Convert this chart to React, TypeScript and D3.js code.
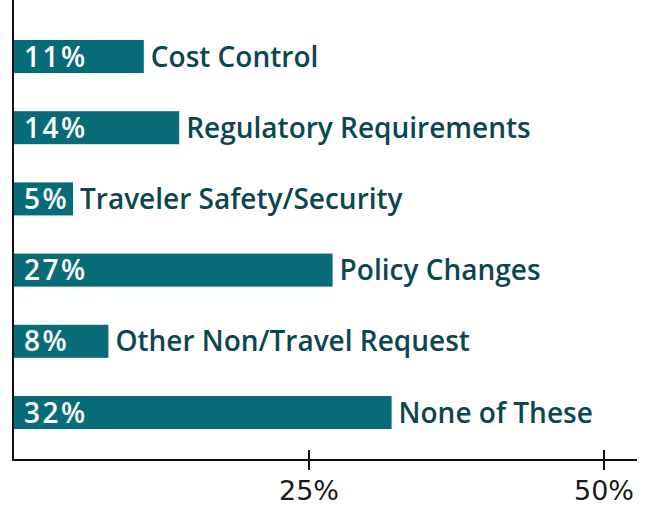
import * as d3 from "d3";
import { useEffect, useRef } from "react";

const categories = [
  "Cost Control",
  "Regulatory Requirements",
  "Traveler Safety/Security",
  "Policy Changes",
  "Other Non/Travel Request",
  "None of These",
];
const values = [11, 14, 5, 27, 8, 32];
const tickValues = [25, 50];

const width = 650;
const height = 506;

export default function App() {
  const ref = useRef<SVGSVGElement | null>(null);

  useEffect(() => {
    const svg = d3.select(ref.current);
    svg.selectAll("*").remove();

    const x = d3.scaleLinear().domain([0, 50]).range([14, 604]);
    const y = d3
      .scaleBand<string>()
      .domain(categories)
      .range([20.9, 448.1])
      .paddingInner(0.536)
      .paddingOuter(0.268);

    const axisY = 460;
    const font = "'Open Sans', sans-serif";

    const rows = svg
      .selectAll("g.row")
      .data(categories)
      .enter()
      .append("g")
      .attr("class", "row");

    rows
      .append("rect")
      .attr("x", x(0))
      .attr("y", (d) => y(d)!)
      .attr("width", (_, i) => x(values[i]) - x(0))
      .attr("height", y.bandwidth())
      .attr("fill", "#076c77");

    rows
      .append("text")
      .attr("x", x(0) + 10)
      .attr("y", (d) => y(d)! + y.bandwidth() / 2)
      .attr("dy", "0.36em")
      .attr("fill", "white")
      .style("font-family", font)
      .style("font-size", "28px")
      .style("font-weight", 600)
      .style("letter-spacing", "2.5px")
      .text((_, i) => `${values[i]}%`);

    rows
      .append("text")
      .attr("x", (_, i) => x(values[i]) + 7)
      .attr("y", (d) => y(d)! + y.bandwidth() / 2)
      .attr("dy", "0.36em")
      .attr("fill", "#0b4750")
      .style("font-family", font)
      .style("font-size", "28px")
      .style("font-weight", 600)
      .text((d) => d);

    // axes
    svg
      .append("line")
      .attr("x1", 13)
      .attr("x2", 13)
      .attr("y1", 0)
      .attr("y2", axisY + 1)
      .attr("stroke", "#111")
      .attr("stroke-width", 2);

    svg
      .append("line")
      .attr("x1", 12)
      .attr("x2", 637)
      .attr("y1", axisY)
      .attr("y2", axisY)
      .attr("stroke", "#111")
      .attr("stroke-width", 2);

    const ticks = svg
      .selectAll("g.tick")
      .data(tickValues)
      .enter()
      .append("g")
      .attr("class", "tick")
      .attr("transform", (d) => `translate(${x(d)},0)`);

    ticks
      .append("line")
      .attr("y1", axisY - 10)
      .attr("y2", axisY + 10)
      .attr("stroke", "#111")
      .attr("stroke-width", 2);

    ticks
      .append("text")
      .attr("y", 500)
      .attr("text-anchor", "middle")
      .attr("fill", "#1a1a1a")
      .style("font-family", "'DejaVu Sans', sans-serif")
      .style("font-size", "27px")
      .style("font-weight", 400)
      .text((d) => `${d}%`);
  }, []);

  return (
    <svg
      ref={ref}
      width={width}
      height={height}
      style={{ position: "absolute", left: 0, top: 0 }}
    ></svg>
  );
}
